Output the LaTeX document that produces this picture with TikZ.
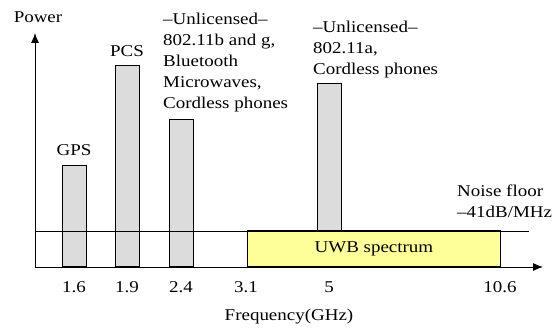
\documentclass[tikz,border=0pt]{standalone}
\usepackage{fontspec}
\setmainfont{Liberation Serif}[FakeStretch=1.15]
\usetikzlibrary{arrows.meta,positioning}
\definecolor{bargray}{HTML}{DCDCDC}
\definecolor{uwbyellow}{HTML}{FFFF99}
\tikzset{
  axis/.style = {line width=0.9pt, -{Latex[length=10pt,width=8pt]}},
  bar/.style = {draw=black, fill=bargray, line width=0.9pt, minimum width=24pt, inner sep=0pt, anchor=south},
  band/.style = {draw=black, fill=uwbyellow, line width=0.9pt, inner sep=0pt, anchor=south west},
  lbl/.style = {inner sep=0pt, font=\fontsize{16.5}{21}\selectfont},
  txt/.style = {lbl, align=left, anchor=north west},
  tick/.style = {lbl, anchor=base},
}

\begin{document}
\begin{tikzpicture}[x=1pt, y=1pt]
  \useasboundingbox (0,0) rectangle (557,328);
  \coordinate (o) at (35,61);
  \coordinate (ytip) at (35,295);
  \coordinate (xtip) at (543,61);
  \coordinate (nfl) at (35,97);
  \coordinate (nfr) at (529,97);

  % bands
  \node [bar, minimum height=101pt] (gps) at (74,61) {};
  \node [bar, minimum height=201pt] (pcs) at (127,61) {};
  \node [bar, minimum height=147pt] (ism) at (181,61) {};
  \node [bar, minimum height=183pt] (unii) at (329,61) {};
  \node [band, minimum width=253pt, minimum height=36pt] (uwb) at (247,61) {};
  \node [lbl] at (uwb.center) {UWB spectrum};

  % noise floor and axes
  \draw [line width=0.9pt] (nfl) -- (nfr);
  \draw [axis] (o) -- (ytip);
  \draw [axis] (o) -- (xtip);

  % labels
  \node [lbl, above=9pt of gps] (gpsl) {GPS};
  \node [lbl, above=8pt of pcs] (pcsl) {PCS};
  \node [txt] (isml) at (163,315)
    {\textendash Unlicensed\textendash\\802.11b and g,\\Bluetooth\\Microwaves,\\Cordless phones};
  \node [txt] (uniil) at (313,307)
    {\textendash Unlicensed\textendash\\802.11a,\\Cordless phones};
  \node [txt] (noise) at (457,143) {Noise floor\\\textendash 41dB/MHz};
  \node [tick] (power) at (38,305) {Power};
  \foreach \x/\t [count=\i] in {74/1.6, 127/1.9, 181/2.4, 246/3.1, 329/5, 500/10.6}
    \node [tick] (tick\i) at (\x,35) {\t};
  \node [tick] (freq) at (289,7) {Frequency(GHz)};
\end{tikzpicture}
\end{document}
